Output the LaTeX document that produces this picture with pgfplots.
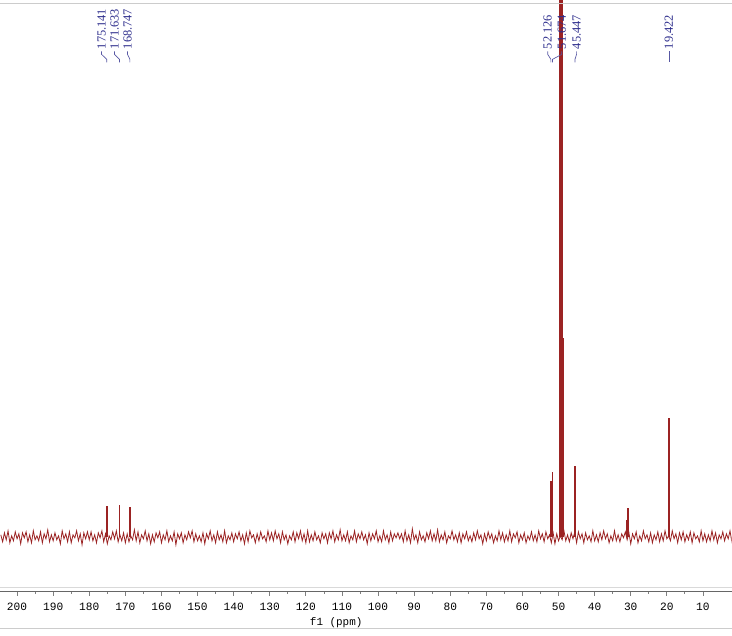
\documentclass[border=0pt]{standalone}
\usepackage{fontspec}
\setmainfont{Liberation Serif}
\newfontfamily\monofont{Liberation Mono}
\usepackage{pgfplots}
\pgfplotsset{compat=1.18}
\definecolor{spec}{RGB}{155,35,35}
\definecolor{lab}{RGB}{45,45,140}
\begin{document}
\begin{tikzpicture}
\begin{axis}[
  scale only axis, width=549pt, height=444pt,
  x dir=reverse, xmin=2.06, xmax=204.62, ymin=-55, ymax=537,
  axis x line*=bottom, hide y axis,
  x axis line style={draw=black!60, line width=0.6pt},
  xtick={10,20,...,200}, minor x tick num=1,
  tick align=outside, major tick length=3pt, minor tick length=1.5pt,
  every tick/.style={black!50, line width=0.6pt},
  /pgf/number format/assume math mode=true,
  xticklabel style={font=\monofont\fontsize{8.4}{9}\selectfont, yshift=-2pt},
  clip mode=individual,
]

% baseline noise
\addplot[spec, line width=0.6pt] coordinates {
(204.5,2)(204,-5)(203.5,4)(203,-3)(202.5,6)(202,-6)(201.5,1)(201,-4)(200.5,5)(200,-2)
(199.5,3)(199,-7)(198.5,4)(198,-1)(197.5,5)(197,-5)(196.5,2)(196,-6)(195.5,6)(195,-3)
(194.5,1)(194,-4)(193.5,5)(193,-6)(192.5,3)(192,-2)(191.5,7)(191,-5)(190.5,2)(190,-4)
(189.5,4)(189,-3)(188.5,1)(188,-7)(187.5,6)(187,-2)(186.5,3)(186,-5)(185.5,5)(185,-6)
(184.5,2)(184,-1)(183.5,6)(183,-4)(182.5,3)(182,-8)(181.5,4)(181,-2)(180.5,5)(180,-3)
(179.5,5)(179,-4)(178.5,2)(178,-6)(177.5,4)(177,-1)(176.5,6)(176,-5)(175.5,3)(175,-7)
(174.5,1)(174,-3)(173.5,5)(173,-2)(172.5,6)(172,-5)(171.5,2)(171,-4)(170.5,4)(170,-6)
(169.5,3)(169,-5)(168.5,1)(168,-3)(167.5,7)(167,-4)(166.5,5)(166,-6)(165.5,2)(165,-2)
(164.5,6)(164,-4)(163.5,3)(163,-7)(162.5,2)(162,-5)(161.5,4)(161,-1)(160.5,5)(160,-6)
(159.5,2)(159,-3)(158.5,6)(158,-5)(157.5,1)(157,-4)(156.5,5)(156,-8)(155.5,3)(155,-2)
(154.5,4)(154,-6)(153.5,2)(153,-3)(152.5,5)(152,-1)(151.5,6)(151,-5)(150.5,3)(150,-4)
(149.5,1)(149,-5)(148.5,4)(148,-7)(147.5,3)(147,-2)(146.5,6)(146,-4)(145.5,2)(145,-6)
(144.5,5)(144,-3)(143.5,2)(143,-5)(142.5,6)(142,-6)(141.5,1)(141,-3)(140.5,4)(140,-5)
(139.5,3)(139,-2)(138.5,5)(138,-4)(137.5,2)(137,-7)(136.5,4)(136,-5)(135.5,6)(135,-1)
(134.5,2)(134,-6)(133.5,3)(133,-4)(132.5,5)(132,-2)(131.5,1)(131,-5)(130.5,6)(130,-3)
(129.5,4)(129,-4)(128.5,6)(128,-2)(127.5,3)(127,-6)(126.5,5)(126,-3)(125.5,2)(125,-7)
(124.5,1)(124,-3)(123.5,5)(123,-5)(122.5,4)(122,-2)(121.5,6)(121,-4)(120.5,3)(120,-6)
(119.5,6)(119,-5)(118.5,2)(118,-4)(117.5,5)(117,-3)(116.5,1)(116,-6)(115.5,4)(115,-2)
(114.5,3)(114,-6)(113.5,4)(113,-2)(112.5,6)(112,-5)(111.5,2)(111,-3)(110.5,7)(110,-4)
(109.5,2)(109,-4)(108.5,5)(108,-6)(107.5,1)(107,-3)(106.5,6)(106,-5)(105.5,3)(105,-2)
(104.5,5)(104,-3)(103.5,2)(103,-7)(102.5,4)(102,-4)(101.5,3)(101,-2)(100.5,6)(100,-5)
(99.5,1)(99,-5)(98.5,6)(98,-3)(97.5,2)(97,-6)(96.5,5)(96,-4)(95.5,3)(95,-1)
(94.5,4)(94,-2)(93.5,3)(93,-5)(92.5,6)(92,-4)(91.5,2)(91,-6)(90.5,8)(90,-3)
(89.5,2)(89,-6)(88.5,5)(88,-3)(87.5,1)(87,-5)(86.5,4)(86,-2)(85.5,6)(85,-4)
(84.5,3)(84,-4)(83.5,7)(83,-5)(82.5,2)(82,-3)(81.5,5)(81,-6)(80.5,1)(80,-2)
(79.5,6)(79,-3)(78.5,2)(78,-5)(77.5,4)(77,-6)(76.5,3)(76,-2)(75.5,5)(75,-4)
(74.5,1)(74,-5)(73.5,4)(73,-3)(72.5,6)(72,-2)(71.5,2)(71,-7)(70.5,3)(70,-4)
(69.5,5)(69,-2)(68.5,3)(68,-6)(67.5,1)(67,-4)(66.5,6)(66,-3)(65.5,4)(65,-5)
(64.5,2)(64,-4)(63.5,6)(63,-5)(62.5,3)(62,-1)(61.5,5)(61,-6)(60.5,2)(60,-3)
(59.5,4)(59,-6)(58.5,1)(58,-3)(57.5,5)(57,-4)(56.5,2)(56,-5)(55.5,6)(55,-2)
(54.5,3)(54,-5)(53.5,5)(53,-2)(52.5,2)(52,-6)(51.5,4)(51,-7)(50.5,3)(50,-4)
(49.5,1)(49,-3)(48.5,6)(48,-4)(47.5,2)(47,-5)(46.5,4)(46,-2)(45.5,5)(45,-6)
(44.5,5)(44,-2)(43.5,3)(43,-6)(42.5,4)(42,-3)(41.5,1)(41,-5)(40.5,6)(40,-4)
(39.5,2)(39,-5)(38.5,4)(38,-3)(37.5,6)(37,-2)(36.5,3)(36,-6)(35.5,1)(35,-4)
(34.5,6)(34,-4)(33.5,2)(33,-5)(32.5,3)(32,-1)(31.5,5)(31,-3)(30.5,4)(30,-7)
(29.5,3)(29,-2)(28.5,5)(28,-6)(27.5,1)(27,-4)(26.5,6)(26,-2)(25.5,2)(25,-5)
(24.5,4)(24,-6)(23.5,2)(23,-3)(22.5,5)(22,-5)(21.5,3)(21,-4)(20.5,6)(20,-2)
(19.5,1)(19,-4)(18.5,6)(18,-2)(17.5,3)(17,-6)(16.5,4)(16,-3)(15.5,5)(15,-5)
(14.5,2)(14,-3)(13.5,5)(13,-6)(12.5,4)(12,-2)(11.5,1)(11,-5)(10.5,6)(10,-4)
(9.5,3)(9,-5)(8.5,2)(8,-4)(7.5,6)(7,-3)(6.5,4)(6,-6)(5.5,2)(5,-2)
(4.5,5)(4,-4)(3.5,3)(3,-2)(2.5,6)(2,-5)(1.5,1)(1,-3)(0.5,4)(0,-6)
};

% peaks
\addplot[spec, ycomb, line width=1.4pt] coordinates {
(175.141,31) (171.633,32) (168.747,30)
(52.126,56) (51.674,65) (45.447,71)
(30.95,17) (30.70,29) (19.422,119)
};
% solvent (CD3OD)
\addplot[spec, ycomb, line width=1.4pt] coordinates {
(49.75,284) (49.50,800) (49.30,800) (49.10,800) (48.85,199)
};

% frame lines
\draw[black!20, line width=0.6pt] (axis cs:204.62,534) -- (axis cs:2.06,534);
\draw[black!15, line width=0.6pt] (axis cs:204.62,-51) -- (axis cs:2.06,-51);
\draw[black!20, line width=0.6pt] (axis cs:204.62,-92) -- (axis cs:2.06,-92);

% peak labels
\tikzset{pl/.style={rotate=90, anchor=west, inner sep=0pt, text=lab, font=\fontsize{9.3}{10}\selectfont}}
\node[pl] at (axis cs:176.6,488) {175.141};
\node[pl] at (axis cs:173.0,488) {171.633};
\node[pl] at (axis cs:169.4,488) {168.747};
\node[pl] at (axis cs:53.0,488) {52.126};
\node[pl] at (axis cs:49.1,488) {51.674};
\node[pl] at (axis cs:45.0,488) {45.447};
\node[pl] at (axis cs:19.422,488) {19.422};
\draw[lab!80, line width=0.5pt] (axis cs:176.6,486) -- (axis cs:176.6,483) -- (axis cs:175.141,478) -- (axis cs:175.141,475);
\draw[lab!80, line width=0.5pt] (axis cs:173.0,486) -- (axis cs:173.0,483) -- (axis cs:171.633,478) -- (axis cs:171.633,475);
\draw[lab!80, line width=0.5pt] (axis cs:169.4,486) -- (axis cs:169.4,483) -- (axis cs:168.747,478) -- (axis cs:168.747,475);
\draw[lab!80, line width=0.5pt] (axis cs:53.0,486) -- (axis cs:53.0,483) -- (axis cs:52.126,478) -- (axis cs:52.126,475);
\draw[lab!80, line width=0.5pt] (axis cs:49.1,486) -- (axis cs:49.1,483) -- (axis cs:51.674,478) -- (axis cs:51.674,475);
\draw[lab!80, line width=0.5pt] (axis cs:45.0,486) -- (axis cs:45.0,483) -- (axis cs:45.447,478) -- (axis cs:45.447,475);
\draw[lab!80, line width=0.5pt] (axis cs:19.422,486) -- (axis cs:19.422,475);

% axis title
\node[font=\monofont\fontsize{8.2}{9}\selectfont, inner sep=0pt] at (axis cs:111.6,-86) {f1 (ppm)};

% picture extent
\path (axis cs:204.62,537) rectangle (axis cs:2.06,-99);
\end{axis}
\end{tikzpicture}
\end{document}
